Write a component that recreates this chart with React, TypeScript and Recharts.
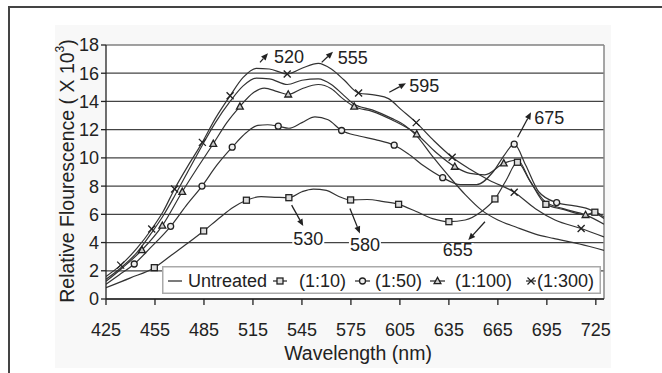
import React from 'react';
import { LineChart, Line, XAxis, YAxis, CartesianGrid, ReferenceLine, ReferenceDot, Legend } from 'recharts';

const FONT = '"Liberation Sans", Arial, Helvetica, sans-serif';
const INK = '#222';
const CURVE = '#333';

// ---------- data (wavelength nm / relative fluorescence x10^3) ----------
const untreatedNm = [425, 434, 444, 453, 460, 467, 475, 484, 492, 501, 509, 517, 525, 536, 545, 555, 563, 570, 577, 588, 600, 608, 615, 625, 635, 645, 655, 665, 676, 688, 699, 715, 730];
const untreatedVal = [1.4, 2.2, 3.3, 4.7, 5.9, 7.3, 9.0, 10.9, 12.5, 14.0, 15.1, 15.65, 15.6, 15.2, 15.5, 15.6, 15.2, 14.5, 13.8, 13.4, 12.8, 12.3, 11.6, 10.1, 8.7, 7.4, 6.3, 5.6, 5.1, 4.6, 4.3, 3.9, 3.45];

const d10Nm = [425, 440, 454.6, 465, 475, 484.8, 495, 503, 511, 520, 530, 537, 545, 552, 560, 567, 574.8, 585, 595, 604.2, 615, 625, 635, 645, 655, 663.2, 670, 677, 684, 694.4, 705, 718.7, 724.4, 730];
const d10Val = [0.8, 1.5, 2.22, 3.1, 3.95, 4.82, 5.8, 6.5, 7.0, 7.25, 7.2, 7.18, 7.6, 7.78, 7.7, 7.3, 7.02, 7.05, 6.9, 6.71, 6.2, 5.7, 5.48, 5.6, 6.2, 7.09, 8.4, 9.69, 8.5, 6.71, 6.35, 5.96, 6.15, 5.8];
const d10Marks = [454.6, 484.8, 511, 537, 574.8, 604.2, 635, 663.2, 677, 694.4, 724.4];

const d50Nm = [425, 433, 442.3, 452, 464.6, 474, 483.8, 493, 502.3, 511, 518, 524, 530.5, 537, 545, 553, 561, 569.3, 580, 590, 601.5, 610, 620, 631.2, 642, 652, 662, 669, 675, 682, 690, 701, 712, 722, 730];
const d50Val = [1.05, 1.7, 2.48, 3.6, 5.15, 6.6, 8.0, 9.5, 10.76, 11.8, 12.3, 12.35, 12.25, 12.1, 12.5, 12.9, 12.7, 11.94, 11.55, 11.3, 10.9, 10.3, 9.4, 8.6, 8.1, 8.1, 9.0, 10.2, 10.97, 9.5, 7.6, 6.83, 6.6, 6.3, 5.7];
const d50Marks = [442.3, 464.6, 483.8, 502.3, 530.5, 569.3, 601.5, 631.2, 675, 701];

const d100Nm = [425, 435, 447, 459.5, 471.7, 481, 490.7, 499, 507, 515, 522, 530, 536.6, 545, 555, 563, 570, 577, 588, 600, 615.3, 627, 638.6, 648, 657, 668.6, 677, 685, 694, 705, 718.7, 730];
const d100Val = [1.25, 2.2, 3.47, 5.2, 7.6, 9.3, 11.0, 12.5, 13.64, 14.6, 14.95, 14.7, 14.5, 14.9, 15.2, 14.9, 14.2, 13.64, 13.3, 12.7, 11.68, 10.4, 9.38, 8.9, 8.8, 9.62, 9.85, 8.3, 6.9, 6.4, 5.96, 5.3];
const d100Marks = [447, 459.5, 471.7, 490.7, 507, 536.6, 577, 615.3, 638.6, 668.6, 718.7];

const d300Nm = [425, 434, 444, 453, 460, 467, 475, 484, 492, 501, 509, 517, 525, 536, 545, 555, 563, 571, 579.7, 590, 598, 606, 615, 626, 637, 648, 660, 675, 688, 700, 716, 730];
const d300Val = [1.6, 2.4, 3.6, 4.96, 6.2, 7.8, 9.4, 11.1, 12.8, 14.4, 15.7, 16.35, 16.3, 15.95, 16.35, 16.7, 16.3, 15.5, 14.6, 14.45, 14.2, 13.4, 12.5, 11.2, 10.05, 9.2, 8.4, 7.57, 6.4, 5.6, 5.0, 4.4];
const d300Marks = [434, 453, 467, 484, 501, 536, 579.7, 615, 637, 675, 716];

const xTicks = [425, 455, 485, 515, 545, 575, 605, 635, 665, 695, 725];
const yTicks = [0, 2, 4, 6, 8, 10, 12, 14, 16, 18];

// peak annotations (data coordinates)
const annLabels = ['520', '555', '595', '675', '530', '580', '655'];
const annTextX = [527.9, 566.9, 610.7, 687.3, 539.7, 574.4, 631.2];
const annTextY = [17.16, 17.1, 15.07, 12.86, 4.22, 3.82, 3.47];
const annFromX = [519.3, 557.1, 598.5, 677.1, 538.7, 574.4, 657.1];
const annFromY = [16.77, 16.77, 14.65, 11.46, 6.65, 6.42, 5.47];
const annToX = [524.2, 564.0, 608.7, 685.3, 545.8, 580.5, 646.9];
const annToY = [17.41, 17.52, 15.29, 13.23, 5.17, 4.65, 4.18];

// ---------- helpers ----------
type Kind = 'none' | 'square' | 'circle' | 'triangle' | 'cross';

const Marker = ({ kind, cx, cy }: { kind: Kind; cx: number; cy: number }) => {
  const s = { stroke: INK, strokeWidth: 1.3 };
  if (kind === 'square') return <rect x={cx - 3} y={cy - 3} width={6} height={6} fill="#ddd" {...s} />;
  if (kind === 'circle') return <circle cx={cx} cy={cy} r={3} fill="#eee" {...s} />;
  if (kind === 'triangle')
    return <polygon points={`${cx},${cy - 3.6} ${cx + 3.4},${cy + 2.6} ${cx - 3.4},${cy + 2.6}`} fill="#ccc" {...s} />;
  if (kind === 'cross')
    return (
      <g {...s}>
        <line x1={cx - 3.5} y1={cy - 3.5} x2={cx + 3.5} y2={cy + 3.5} />
        <line x1={cx - 3.5} y1={cy + 3.5} x2={cx + 3.5} y2={cy - 3.5} />
      </g>
    );
  return null;
};

const build = (nm: number[], val: number[], marks: number[]) =>
  nm.map((x, i) => ({ x, y: val[i], m: marks.includes(x) }));

const series: { name: string; kind: Kind; data: { x: number; y: number; m: boolean }[] }[] = [
  { name: 'Untreated', kind: 'none', data: build(untreatedNm, untreatedVal, []) },
  { name: '(1:10)', kind: 'square', data: build(d10Nm, d10Val, d10Marks) },
  { name: '(1:50)', kind: 'circle', data: build(d50Nm, d50Val, d50Marks) },
  { name: '(1:100)', kind: 'triangle', data: build(d100Nm, d100Val, d100Marks) },
  { name: '(1:300)', kind: 'cross', data: build(d300Nm, d300Val, d300Marks) },
];

const makeDot = (kind: Kind) => (p: any) => {
  const k = `${kind}-${p.index}`;
  if (!p.payload || !p.payload.m || p.cx == null) return <g key={k} />;
  return (
    <g key={k}>
      <Marker kind={kind} cx={p.cx} cy={p.cy} />
    </g>
  );
};

const Arrow = (p: any) => {
  const x1 = +p.x1, y1 = +p.y1, x2 = +p.x2, y2 = +p.y2;
  const a = Math.atan2(y2 - y1, x2 - x1);
  const L = 7, W = 3;
  const bx = x2 - L * Math.cos(a), by = y2 - L * Math.sin(a);
  const pts = `${x2},${y2} ${bx - W * Math.sin(a)},${by + W * Math.cos(a)} ${bx + W * Math.sin(a)},${by - W * Math.cos(a)}`;
  return (
    <g>
      <line x1={x1} y1={y1} x2={bx} y2={by} stroke={INK} strokeWidth={1.3} />
      <polygon points={pts} fill={INK} />
    </g>
  );
};

const makeAnnText = (label: string) => (p: any) => (
  <g>
    <rect x={p.cx - 1} y={p.cy - 7} width={32} height={14} fill="#fff" />
    <text x={p.cx} y={p.cy} dominantBaseline="central" fontFamily={FONT} fontSize={18} fill={INK}>
      {label}
    </text>
  </g>
);

const legendItems: { label: string; kind: Kind; l1: number; l2: number; tx: number }[] = [
  { label: 'Untreated', kind: 'none', l1: 6, l2: 20, tx: 26 },
  { label: '(1:10)', kind: 'square', l1: 111, l2: 125, tx: 137 },
  { label: '(1:50)', kind: 'circle', l1: 193, l2: 208, tx: 213 },
  { label: '(1:100)', kind: 'triangle', l1: 268, l2: 283, tx: 293 },
  { label: '(1:300)', kind: 'cross', l1: 364, l2: 374, tx: 375 },
];

const LegendBox = () => (
  <svg width={439} height={28} style={{ display: 'block' }}>
    <rect x={0.75} y={0.75} width={437.5} height={26.5} fill="#fff" stroke="#aaa" strokeWidth={1.5} />
    {legendItems.map((it) => (
      <g key={it.label}>
        <line x1={it.l1} y1={15} x2={it.l2} y2={15} stroke={CURVE} strokeWidth={1.3} />
        <Marker kind={it.kind} cx={(it.l1 + it.l2) / 2} cy={15} />
        <text x={it.tx} y={15} dominantBaseline="central" fontFamily={FONT} fontSize={18} fill={INK}>
          {it.label}
        </text>
      </g>
    ))}
  </svg>
);

const YTitle = (props: any) => {
  const vb = props.viewBox || { x: 46, y: 45, width: 60, height: 254 };
  const cx = vb.x + 20.5;
  const cy = vb.y + vb.height / 2 - 1;
  return (
    <text
      x={cx}
      y={cy}
      transform={`rotate(-90, ${cx}, ${cy})`}
      textAnchor="middle"
      dominantBaseline="central"
      fontFamily={FONT}
      fontSize={19.5}
      fill={INK}
    >
      Relative Flourescence ( X 10
      <tspan dy={-7} fontSize={12}>3</tspan>
      <tspan dy={7}>)</tspan>
    </text>
  );
};

const XTitle = (props: any) => {
  const vb = props.viewBox || { x: 106, y: 299, width: 498, height: 40 };
  return (
    <text x={vb.x + vb.width / 2 + 3} y={vb.y + 61} textAnchor="middle" fontFamily={FONT} fontSize={19.5} fill={INK}>
      Wavelength (nm)
    </text>
  );
};

export default function App() {
  return (
    <div style={{ position: 'absolute', left: 0, top: 0, width: 662, height: 373, overflow: 'hidden', background: '#fff' }}>
      <div style={{ position: 'absolute', left: 55, top: 25, width: 556, height: 343, background: '#f8f8f8' }} />
      <div
        style={{
          position: 'absolute',
          left: 8,
          top: 6,
          width: 700,
          height: 400,
          borderTop: '2px solid #444',
          borderLeft: '2px solid #444',
        }}
      />
      <div style={{ position: 'absolute', left: 0, top: 0 }}>
        <LineChart width={662} height={373} margin={{ top: 45, right: 58, bottom: 34, left: 46 }}>
          <CartesianGrid horizontal vertical={false} stroke="#444" strokeWidth={1.2} fill="#fff" />
          <XAxis
            type="number"
            dataKey="x"
            domain={[425, 730]}
            ticks={xTicks}
            interval={0}
            allowDataOverflow
            height={40}
            tickSize={6}
            tickMargin={18}
            axisLine={{ stroke: INK, strokeWidth: 1.3 }}
            tickLine={{ stroke: INK, strokeWidth: 1.3 }}
            tick={{ fontFamily: FONT, fontSize: 18, fill: INK }}
            label={XTitle}
          />
          <YAxis
            type="number"
            domain={[0, 18]}
            ticks={yTicks}
            interval={0}
            width={60}
            tickSize={5}
            tickMargin={2}
            axisLine={{ stroke: INK, strokeWidth: 1.3 }}
            tickLine={{ stroke: INK, strokeWidth: 1.3 }}
            tick={{ fontFamily: FONT, fontSize: 18, fill: INK }}
            label={YTitle}
          />
          <ReferenceLine x={730} stroke="#888" strokeWidth={1.5} />
          {series.map((s) => (
            <Line
              key={s.name}
              name={s.name}
              data={s.data}
              dataKey="y"
              type="monotone"
              stroke={CURVE}
              strokeWidth={1.2}
              dot={makeDot(s.kind)}
              activeDot={false}
              isAnimationActive={false}
            />
          ))}
          {annLabels.map((lab, i) => (
            <ReferenceLine
              key={`al-${lab}`}
              segment={[
                { x: annFromX[i], y: annFromY[i] },
                { x: annToX[i], y: annToY[i] },
              ]}
              shape={Arrow}
            />
          ))}
          {annLabels.map((lab, i) => (
            <ReferenceDot key={`at-${lab}`} x={annTextX[i]} y={annTextY[i]} r={0} shape={makeAnnText(lab)} />
          ))}
          <Legend
            layout="horizontal"
            verticalAlign="middle"
            align="center"
            content={() => <LegendBox />}
            wrapperStyle={{ left: 162, top: 266, width: 439, height: 28 }}
          />
        </LineChart>
      </div>
    </div>
  );
}
